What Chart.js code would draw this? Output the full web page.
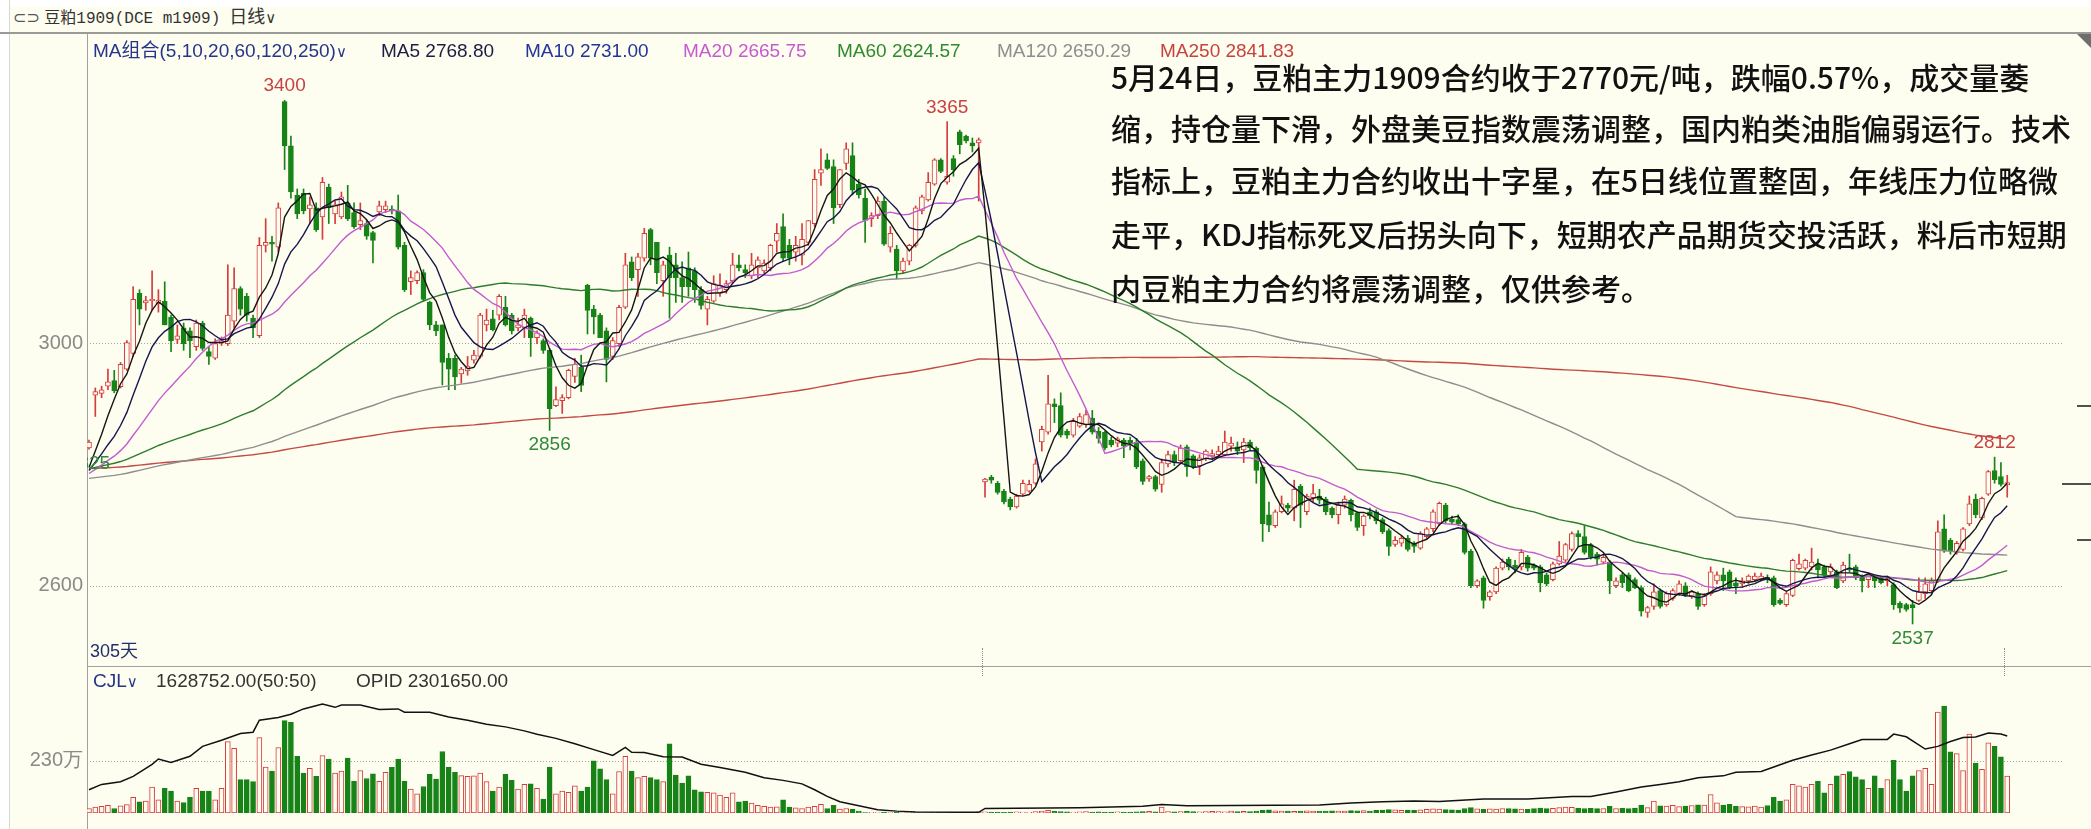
<!DOCTYPE html>
<html><head><meta charset="utf-8">
<script src="https://cdn.jsdelivr.net/npm/chart.js@4.4.0/dist/chart.umd.min.js"></script>
<style>
html,body{margin:0;padding:0;background:#fdfdf0;}
#wrap{position:relative;width:2091px;height:829px;overflow:hidden;background:#fdfdf0;font-family:"Liberation Sans","Noto Sans CJK SC",sans-serif;}
.abs{position:absolute;white-space:nowrap;}
canvas{position:absolute;left:0;}
.note{position:absolute;left:1111px;font-family:"Noto Sans CJK SC",sans-serif;font-size:30px;line-height:30px;color:#111;font-weight:500;white-space:nowrap;}
.leg{position:absolute;top:40px;font-size:19px;line-height:22px;}
.lbl{position:absolute;font-size:19px;line-height:20px;transform:translateX(-50%);}
</style></head><body>
<div id="wrap">
<div class="abs" style="left:0;top:0;width:2091px;height:7px;background:#fff"></div>
<div class="abs" style="left:0;top:0;width:9px;height:829px;background:#fff;border-right:1px solid #d8d8d0"></div>
<div class="abs" style="left:0;top:32px;width:2091px;height:2px;background:#9a9a96"></div>
<div class="abs" style="left:87px;top:33px;width:1px;height:796px;background:#a0a0a0"></div>
<div class="abs" style="left:87px;top:666px;width:2004px;height:1px;background:#a0a0a0"></div>
<div class="abs" style="left:2077px;top:34px;width:14px;height:14px;background:#6e6e6e;clip-path:polygon(0 0,100% 0,100% 100%)"></div>
<div class="abs" style="left:13px;top:5px;font-size:16px;line-height:20px;color:#333">
<span style="font-family:'DejaVu Sans';color:#555">⊂⊃</span> <span style="font-family:'Noto Sans CJK SC'">豆粕</span><span style="font-family:'Liberation Mono';font-size:16px">1909(DCE m1909)</span>&nbsp;&nbsp;<span style="font-family:'Noto Sans CJK SC';font-size:18px">日线</span><span style="font-family:'DejaVu Sans';font-size:15px">∨</span></div>
<canvas id="pc" width="2091" height="633" style="top:33px"></canvas>
<canvas id="vc" width="2091" height="162" style="top:667px"></canvas>
<div class="leg" style="left:93px;color:#26358a">MA组合(5,10,20,60,120,250)<span style="font-family:'DejaVu Sans';font-size:15px">∨</span></div>
<div id="legs"></div>
<div class="abs" style="left:93px;top:670px;font-size:19px;line-height:22px;color:#26358a">CJL<span style="font-family:'DejaVu Sans';font-size:15px">∨</span></div>
<div class="abs" style="left:156px;top:670px;font-size:19px;line-height:22px;color:#333">1628752.00(50:50)</div>
<div class="abs" style="left:356px;top:670px;font-size:19px;line-height:22px;color:#333">OPID 2301650.00</div>
<div class="abs" style="left:90px;top:640px;font-size:18px;line-height:22px;color:#22306a;font-family:'Liberation Sans','Noto Sans CJK SC'">305天</div>
<div class="note" style="top:61px">5月24日，豆粕主力1909合约收于2770元/吨，跌幅0.57%，成交量萎</div>
<div class="note" style="top:112px">缩，持仓量下滑，外盘美豆指数震荡调整，国内粕类油脂偏弱运行。技术</div>
<div class="note" style="top:164px">指标上，豆粕主力合约收出十字星，在5日线位置整固，年线压力位略微</div>
<div class="note" style="top:218px">走平，KDJ指标死叉后拐头向下，短期农产品期货交投活跃，料后市短期</div>
<div class="note" style="top:272px">内豆粕主力合约将震荡调整，仅供参考。</div>
<div id="lblbox" class="abs" style="left:87px;top:33px;width:2004px;height:633px;overflow:hidden"></div>
<div id="deco"></div>
</div>
<script>
const opens=[2827,2914,2917,2929,2938,2928,2957,2983,3082,3066,
3070,3065,3069,3043,3006,3025,3020,2994,3033,2986,
2975,3000,2999,3036,3090,3077,3041,3012,3161,3166,
3158,3398,3325,3244,3247,3221,3223,3208,3257,3213,
3208,3231,3215,3195,3197,3182,3216,3220,3221,3218,
3161,3101,3103,3116,3067,3030,3030,2975,2975,2949,
2954,2972,2978,3030,3040,3046,3059,3046,3025,3025,
3041,3009,3004,2988,2897,2905,2910,2945,2960,3095,
3056,3046,3020,2978,2999,3059,3134,3121,3140,3187,
3166,3103,3145,3129,3108,3124,3119,3088,3056,3069,
3082,3088,3103,3129,3121,3111,3124,3119,3124,3168,
3192,3161,3150,3145,3166,3197,3280,3302,3291,3228,
3296,3309,3262,3239,3205,3210,3234,3158,3155,3119,
3135,3161,3218,3236,3262,3302,3265,3304,3348,3341,
3330,3330,
2771,2779,2769,2756,2743,2730,2751,2756,
2769,2837,2853,2900,2897,2855,2848,2863,2866,2876,
2855,2853,2840,2835,2840,2840,2837,2806,2776,2780,
2767,2801,2816,2806,2829,2814,2798,2809,2814,2816,
2816,2830,2829,2824,2837,2827,2796,2717,2699,2722,
2733,2728,2764,2722,2745,2748,2743,2728,2717,2733,
2741,2720,2699,2722,2722,2709,2691,2668,2670,2678,
2670,2662,2681,2694,2702,2733,2710,2709,2702,2657,
2600,2613,2582,2590,2629,2644,2634,2631,2647,2634,
2631,2618,2610,2636,2642,2660,2686,2681,2668,2652,
2639,2639,2600,2618,2618,2610,2597,2556,2566,2592,
2569,2579,2587,2600,2582,2587,2569,2587,2608,2618,
2623,2605,2603,2608,2610,2610,2614,2613,2576,2569,
2584,2628,2629,2631,2636,2631,2623,2623,2608,2629,
2631,2616,2610,2616,2613,2608,2602,2571,2569,2569,
2576,2587,2592,2608,2694,2675,2655,2660,2702,2743,
2712,2751,2790,2780,2766];
const highs=[2840,2926,2929,2957,2955,2968,3004,3093,3088,3077,
3119,3088,3101,3046,3030,3033,3025,3038,3036,2994,
3007,3010,3129,3124,3093,3082,3046,3174,3205,3176,
3231,3400,3341,3254,3254,3241,3231,3273,3262,3234,
3249,3260,3231,3231,3202,3184,3234,3234,3226,3244,
3166,3119,3119,3121,3069,3036,3030,2983,2980,2960,
2978,2988,3049,3056,3054,3080,3077,3049,3041,3056,
3043,3020,3007,2991,2928,2915,2957,2975,2980,3097,
3062,3049,3025,3009,3062,3148,3142,3148,3189,3189,
3166,3135,3158,3148,3134,3150,3124,3093,3077,3111,
3114,3103,3148,3145,3129,3148,3142,3137,3163,3197,
3213,3171,3176,3197,3202,3286,3320,3312,3302,3286,
3330,3330,3270,3254,3215,3241,3241,3192,3161,3140,
3163,3226,3244,3281,3304,3304,3365,3309,3351,3343,
3338,3338,
2777,2782,2772,2759,2746,2751,2774,2774,
2809,2863,2947,2908,2918,2858,2876,2884,2889,2889,
2861,2855,2845,2845,2843,2845,2843,2809,2782,2782,
2809,2822,2822,2832,2832,2816,2816,2824,2824,2830,
2855,2845,2837,2843,2840,2829,2798,2738,2725,2748,
2736,2774,2767,2751,2767,2759,2746,2730,2738,2748,
2743,2722,2717,2728,2725,2712,2694,2681,2683,2683,
2673,2689,2696,2725,2738,2736,2715,2717,2704,2660,
2610,2616,2592,2631,2644,2647,2642,2660,2650,2636,
2634,2621,2639,2673,2670,2689,2691,2699,2670,2655,
2652,2642,2613,2621,2621,2613,2600,2566,2603,2595,
2590,2595,2608,2605,2592,2590,2587,2631,2623,2629,
2626,2613,2613,2618,2621,2621,2618,2616,2579,2590,
2644,2652,2644,2662,2644,2634,2636,2626,2639,2652,
2634,2618,2621,2618,2616,2616,2605,2574,2571,2576,
2613,2613,2613,2707,2717,2678,2673,2696,2748,2751,
2746,2790,2812,2803,2782];
const lows=[2825,2879,2910,2923,2918,2926,2955,2978,3030,3054,
3054,3051,3030,2986,2999,2988,2976,2988,2988,2965,
2973,2996,2996,3025,3046,3036,3009,3009,3150,3135,
3150,3286,3239,3205,3213,3197,3184,3171,3197,3197,
3205,3202,3189,3187,3171,3132,3210,3215,3213,3155,
3085,3080,3098,3069,3022,3012,2931,2923,2923,2934,
2947,2967,2975,3020,3020,3038,3028,3015,3020,3009,
2978,2999,2983,2856,2895,2884,2908,2935,2920,3015,
3015,3009,2936,2973,2994,3057,3103,3077,3135,3129,
3098,3077,3041,3067,3067,3077,3067,3056,3030,3067,
3077,3082,3098,3119,3108,3106,3108,3114,3119,3150,
3135,3129,3135,3129,3161,3192,3260,3286,3197,3223,
3286,3244,3239,3166,3192,3205,3161,3150,3106,3116,
3129,3158,3213,3234,3260,3281,3262,3275,3312,3330,
3315,3234,
2746,2769,2751,2735,2725,2728,2748,2754,
2767,2822,2850,2869,2845,2843,2845,2861,2861,2850,
2835,2824,2829,2829,2811,2824,2793,2767,2772,2756,
2754,2796,2798,2803,2780,2793,2783,2806,2809,2811,
2814,2822,2816,2803,2824,2769,2673,2689,2696,2720,
2722,2707,2696,2717,2738,2735,2717,2712,2702,2728,
2707,2691,2683,2710,2702,2686,2650,2665,2665,2657,
2655,2660,2678,2689,2699,2704,2702,2699,2652,2597,
2597,2563,2576,2587,2626,2626,2621,2626,2624,2626,
2590,2600,2608,2634,2639,2657,2665,2652,2644,2634,
2636,2587,2597,2597,2590,2595,2550,2548,2561,2563,
2566,2576,2584,2582,2579,2561,2566,2584,2603,2592,
2595,2587,2597,2603,2608,2608,2605,2566,2569,2566,
2582,2626,2626,2626,2613,2613,2613,2595,2605,2623,
2610,2590,2597,2597,2603,2600,2561,2556,2558,2537,
2574,2579,2590,2605,2655,2652,2652,2657,2699,2712,
2709,2749,2769,2764,2746];
const closes=[2837,2920,2923,2936,2921,2965,3001,3072,3056,3070,
3072,3071,3030,3004,3012,2999,3004,3033,2991,2978,
2999,3004,3046,3090,3056,3046,3025,3161,3166,3163,
3223,3325,3249,3213,3218,3228,3187,3265,3223,3228,
3241,3205,3192,3202,3176,3169,3226,3226,3218,3158,
3088,3108,3116,3072,3030,3020,2968,2957,2944,2957,
2962,2980,3046,3038,3022,3077,3030,3020,3030,3046,
3009,3017,2988,2892,2907,2910,2955,2965,2930,3054,
3043,3009,2973,3004,3059,3129,3108,3142,3181,3140,
3116,3129,3108,3108,3093,3093,3088,3062,3072,3098,
3095,3098,3129,3124,3116,3129,3137,3132,3161,3181,
3140,3140,3161,3171,3202,3270,3286,3288,3223,3286,
3320,3252,3244,3202,3210,3234,3163,3181,3119,3135,
3161,3223,3241,3265,3302,3283,3275,3286,3327,3333,
3325,3335,
2776,2774,2754,2738,2730,2748,2769,2767,
2801,2858,2900,2895,2848,2848,2871,2879,2882,2853,
2843,2827,2832,2842,2830,2835,2796,2772,2780,2759,
2803,2816,2803,2827,2796,2796,2811,2822,2818,2822,
2837,2835,2822,2837,2827,2790,2702,2700,2722,2735,
2728,2759,2733,2748,2752,2741,2722,2717,2733,2743,
2717,2696,2715,2715,2707,2689,2665,2675,2678,2660,
2665,2686,2694,2722,2736,2707,2705,2702,2655,2600,
2608,2576,2590,2629,2639,2631,2629,2655,2629,2629,
2605,2603,2636,2649,2668,2686,2681,2655,2647,2644,
2647,2608,2608,2605,2592,2597,2558,2564,2590,2566,
2587,2592,2603,2584,2590,2566,2584,2623,2618,2608,
2597,2600,2608,2616,2616,2616,2611,2569,2571,2587,
2642,2636,2642,2639,2626,2618,2631,2597,2634,2626,
2613,2608,2618,2608,2605,2612,2569,2563,2561,2564,
2590,2603,2608,2689,2657,2657,2670,2694,2735,2717,
2744,2788,2775,2767,2770];
// volume in 万手
const volumes=[20,26,29.5,34,20,32,36.6,69.6,49.5,53,
114,57.8,108.5,96.7,53,46,69.6,108.5,96.7,96.7,
57.8,108.5,315,285,147,147,138,332.6,203,185,
289,407,400,250,175.7,197,161.6,253.6,238,175.7,
185,241.8,140,187.5,152,173,140,179,201.7,238,
140,105,85,116.8,171,149.8,271,203,179,165,
161.6,164,175.7,138,96.7,114,171,143.9,105,126,
128.5,108.5,61.3,203,85,96.7,90.8,120,96.7,114,
230,194.6,147,85,183,250,185,155.7,161.6,155.7,
147,138,305,167.5,132,164,102.6,93,90.8,88.5,
79,69.6,88.5,49.5,53,43.6,34,29.5,26,27,
57.8,26,22.4,20,26,29.5,37.7,20,34,17.7,
20,17.7,8.3,2.4,
3,2,4,2,3,2,2,3,2,2,3,2,4,3,2,2,3,5,
5,4,4,3,4,5,4,3,6,8,12,7,6,5,4,5,6,4,5,4,4,5,4,4,5,6,7,5,
26,
6,5,6,7,6,5,6,7,6,5,8,6,7,6,9,12,14,10,8,9,7,8,10,9,8,9,10,8,9,11,
10,11,9,12,13,15,14,12,13,12,14,16,18,17,15,14,13,20,24,18,16,18,17,19,20,18,17,16,20,22,19,21,24,26,25,22,20,21,19,20,
29.5,
20,21,19,22,35,24,
53,
32,30,34,28,31,33,36,35,
81,
45,35,38,30,28,27,30,26,33,
69.6,53,57.8,126,120,114,126,140,88.5,126,164,171,183,159,147,108.5,164,108.5,147,232,147,96.7,164,187.5,197,126,444.6,471.7,270,262,187.5,348,220.5,193,309,293.6,247.7,162.9];
// open interest (万手) read at sampled bars
const opidIdx=[0,2,5,7,10,11,13,16,18,21,24,26,27,30,32,34,37,39,40,43,46,49,50,54,57,60,63,66,69,71,74,77,80,83,85,86,88,91,94,97,100,104,107,110,113,115,117,119,122,125,128,131,141,142,157,167,170,174,195,200,205,210,214,221,228,235,238,242,246,249,252,255,259,261,265,267,270,273,276,279,281,285,286,288,291,293,295,297,299,301,303,304];
const opidVal=[69.5,85.5,93.5,109.5,145.5,161.4,151,169.4,199,217.4,237.4,241.4,277.3,285.3,295,311,325.3,315.7,322.7,322.7,309.3,311,301.3,301.3,286.9,277.3,265.3,257.3,245.4,235,223,207,189.4,171.8,195.8,181.4,180.6,167.8,167,145.5,135.9,121.5,105.5,97.5,87.1,69.5,49.6,33.6,21.6,9.6,5.6,3.2,2,13.6,16,20,25.6,21.6,24,29.6,33.6,36,34.4,41.6,41.6,49.6,49.6,63,77.5,85.5,93.5,105.5,111,121.5,123.9,137.5,157.4,173.4,187.8,207,219.8,219.8,235.8,227.8,191,199,213.4,225.4,227,239,235.8,230.165];
const maPeriods=[5,10,20,60,120,250];
const maStart=[2795,2790,2785,2793,2777,2793];
const maColors=['#151515','#16164e','#c25ccf','#2d7d2d','#8e8e8e','#c44a44'];
const maLegendColors=['#1c1c44','#24349a','#c85ad0','#2d8a2d','#8e8e8e','#c8423c'];
const maLegend=['2768.80','2731.00','2665.75','2624.57','2650.29','2841.83'];
const maLegendX=[381,525,683,837,997,1160];
const priceTicks=[2600,3000];
const volTicks=[230];
const markBars=[31,136,302,73,289,0];
const markKind=['high','high','high','low','low','low'];
const rightMarks=[2896,2768,2676];
const sepBars=[141.5,303.5];

const N=closes.length;
const idx=[...Array(N).keys()];
const RED='#d63c3c', GREEN='#178317', BG='#fdfdf0';
const up=i=>closes[i]>=opens[i];

function ma(n,start){
  const prior=(n*start-closes[0])/(n-1);
  return idx.map(i=>{let s=0,c=0;for(let k=Math.max(0,i-n+1);k<=i;k++){s+=closes[k];c++;}s+=(n-c)*prior;return s/n;});
}
const maSeries=maPeriods.map((p,j)=>ma(p,maStart[j]));

const XMIN=-0.317, XMAX=312.68;
const xScale={type:'linear',min:XMIN,max:XMAX,display:false,offset:false,grid:{display:false}};

const gridPlugin={id:'dotgrid',beforeDatasetsDraw(chart,args,opts){
  const {ctx,chartArea}=chart;const ys=chart.scales[opts.axis];
  ctx.save();ctx.strokeStyle='#a5a5a0';ctx.lineWidth=1;ctx.setLineDash([1,2]);
  opts.values.forEach(v=>{const y=Math.round(ys.getPixelForValue(v))+0.5;ctx.beginPath();ctx.moveTo(chartArea.left,y);ctx.lineTo(chartArea.right,y);ctx.stroke();});
  ctx.restore();}};

const yFont={family:'Liberation Sans',size:20};
const priceChart=new Chart(document.getElementById('pc'),{
  type:'bar',
  data:{datasets:[
    ...maPeriods.map((p,j)=>({type:'line',data:idx.map(i=>({x:i,y:maSeries[j][i]})),borderColor:maColors[j],borderWidth:1.4,pointRadius:0,tension:0,order:1})),
    {type:'bar',data:idx.map(i=>({x:i,y:[opens[i],closes[i]]})),backgroundColor:c=>up(c.dataIndex)?BG:GREEN,borderColor:c=>up(c.dataIndex)?RED:GREEN,borderWidth:1,borderSkipped:false,barThickness:5,minBarLength:1,grouped:false,order:2},
    {type:'bar',data:idx.map(i=>({x:i,y:[lows[i],highs[i]]})),backgroundColor:c=>up(c.dataIndex)?RED:GREEN,borderWidth:0,barThickness:1,grouped:false,order:3}
  ]},
  options:{responsive:false,animation:false,events:[],layout:{padding:{left:0,right:29,top:0,bottom:0}},
    plugins:{legend:{display:false},tooltip:{enabled:false},dotgrid:{axis:'y',values:priceTicks}},
    scales:{x:xScale,
      y:{type:'linear',min:2494.1,max:3484.7,position:'left',grid:{display:false,drawTicks:false},border:{display:false},
        afterFit:s=>{s.width=87;},afterBuildTicks:s=>{s.ticks=priceTicks.map(v=>({value:v}));},
        ticks:{font:yFont,color:'#8a8a88',padding:4,callback:v=>String(v)}}}},
  plugins:[gridPlugin]
});

const volChart=new Chart(document.getElementById('vc'),{
  type:'bar',
  data:{datasets:[
    {type:'line',yAxisID:'yo',data:opidIdx.map((x,k)=>({x:x,y:opidVal[k]})),borderColor:'#111',borderWidth:1.5,pointRadius:0,tension:0,spanGaps:true,order:1},
    {type:'bar',yAxisID:'yv',data:idx.map(i=>({x:i,y:volumes[i]})),backgroundColor:c=>up(c.dataIndex)?BG:GREEN,borderColor:c=>up(c.dataIndex)?RED:GREEN,borderWidth:1,borderSkipped:false,barThickness:5,grouped:false,order:2}
  ]},
  options:{responsive:false,animation:false,events:[],layout:{padding:{left:0,right:29,top:0,bottom:0}},
    plugins:{legend:{display:false},tooltip:{enabled:false},dotgrid:{axis:'yv',values:volTicks}},
    scales:{x:xScale,
      yv:{type:'linear',min:0,max:573.2,position:'left',grid:{display:false,drawTicks:false},border:{display:false},
        afterFit:s=>{s.width=87;},afterBuildTicks:s=>{s.ticks=volTicks.map(v=>({value:v}));},
        ticks:{font:yFont,color:'#8a8a88',padding:4,callback:v=>String(v)+'万'}},
      yo:{type:'linear',min:0,max:388.4,display:false}}},
  plugins:[gridPlugin]
});

// legend values
const legs=document.getElementById('legs');
maPeriods.forEach((p,j)=>{const d=document.createElement('div');d.className='leg';d.style.left=maLegendX[j]+'px';d.style.color=maLegendColors[j];d.textContent='MA'+p+' '+maLegend[j];legs.appendChild(d);});

// extreme labels
const xs=priceChart.scales.x, ys=priceChart.scales.y;
const box=document.getElementById('lblbox');
markBars.forEach((b,k)=>{
  const hi=markKind[k]==='high';const v=hi?highs[b]:lows[b];
  const d=document.createElement('div');d.className='lbl';d.textContent=String(v);
  d.style.color=hi?'#c84242':'#2f8a3a';
  const x=xs.getPixelForValue(b)-87;const y=ys.getPixelForValue(v)+(hi?-15:14);
  d.style.left=x+'px';d.style.top=(y-10)+'px';box.appendChild(d);
});
const deco=document.getElementById('deco');
rightMarks.forEach((v,k)=>{const d=document.createElement('div');d.className='abs';const y=33+ys.getPixelForValue(v);
  const x0=k===1?2062:2077;d.style.cssText=`left:${x0}px;top:${Math.round(y)-1}px;width:${2091-x0}px;height:2px;background:#505050`;deco.appendChild(d);});
sepBars.forEach(b=>{const d=document.createElement('div');d.className='abs';const x=Math.round(xs.getPixelForValue(b));
  d.style.cssText=`left:${x}px;top:648px;width:0;height:28px;border-left:1px dotted #8a8a8a`;deco.appendChild(d);});
</script>
</body></html>
